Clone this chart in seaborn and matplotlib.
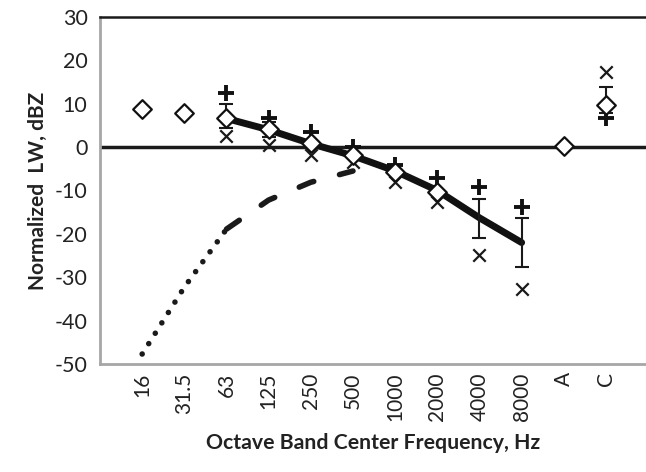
import numpy as np
import pandas as pd
import matplotlib
matplotlib.use('Agg')
import matplotlib.pyplot as plt
import seaborn as sns

# 数据
bands = ['16', '31.5', '63', '125', '250', '500', '1000', '2000', '4000', '8000', 'A', 'C']
pos = np.arange(1, len(bands) + 1)

# 平均值 (菱形)
mean_lw = [8.9, 7.8, 6.6, 4.1, 0.9, -1.8, -5.7, -10.3, np.nan, np.nan, 0.3, 9.8]
# 上限 (+)
upper_lw = [np.nan, np.nan, 12.4, 6.6, 3.5, 0.1, -4.1, -7.2, -9.1, -13.8, np.nan, 6.6]
# 下限 (x)
lower_lw = [np.nan, np.nan, 2.5, 0.5, -1.8, -3.4, -8.0, -12.6, -24.9, -32.6, np.nan, 17.4]

# 误差线
err_bands = ['63', '125', '4000', '8000', 'C']
err_center = [6.6, 4.1, -16.5, -22.0, 9.8]
err_top = [10.0, 5.8, -12.0, -16.4, 13.9]
err_bottom = [4.3, 2.4, -21.0, -27.7, 7.8]

# 粗实线
fit_bands = ['63', '125', '250', '500', '1000', '2000', '4000', '8000']
fit_lw = [6.6, 4.0, 0.8, -2.0, -5.5, -10.0, -16.3, -22.0]

# 点线 / 虚线
dot_bands = ['16', '31.5', '63']
dot_lw = [-47.7, -32.3, -18.9]
dash_bands = ['63', '125', '250', '500']
dash_lw = [-18.9, -12.2, -8.1, -5.5]

idx = {b: p for b, p in zip(bands, pos)}

sns.set_style('white')
plt.rcParams['font.family'] = ['Lato', 'DejaVu Sans']

fig = plt.figure(figsize=(6.46, 4.72), dpi=100)
ax = fig.add_axes([0.1548, 0.2288, 0.8452, 0.7352])

ax.axhline(0, color='#1a1a1a', lw=2.5, zorder=1)

sns.lineplot(x=[idx[b] for b in dot_bands], y=dot_lw, ax=ax, color='#1a1a1a', lw=4, zorder=2)
ax.lines[-1].set(dashes=(0.01, 2.2), dash_capstyle='round')
sns.lineplot(x=[idx[b] for b in dash_bands], y=dash_lw, ax=ax, color='#1a1a1a', lw=4, zorder=2)
ax.lines[-1].set(dashes=(2.8, 4.8), dash_capstyle='round')
sns.lineplot(x=[idx[b] for b in fit_bands], y=fit_lw, ax=ax, color='#111111', lw=5, zorder=3)
ax.lines[-1].set(solid_capstyle='round')

ex = [idx[b] for b in err_bands]
ax.errorbar(ex, err_center,
            yerr=[np.array(err_center) - np.array(err_bottom), np.array(err_top) - np.array(err_center)],
            fmt='none', ecolor='#1a1a1a', elinewidth=1.5, capsize=5, capthick=1.5, zorder=4)

df = pd.DataFrame({'x': pos, 'mean': mean_lw, 'upper': upper_lw, 'lower': lower_lw})
sns.scatterplot(data=df, x='x', y='upper', ax=ax, marker='+', s=130, color='#111111',
                linewidth=2.8, zorder=5)
sns.scatterplot(data=df, x='x', y='lower', ax=ax, marker='x', s=80, color='#1a1a1a',
                linewidth=1.6, zorder=5)
sns.scatterplot(data=df, x='x', y='mean', ax=ax, marker='D', s=90, facecolor='white',
                edgecolor='#111111', linewidth=1.6, zorder=6)

ax.set_xlim(0, 12.95)
ax.set_ylim(-50, 30)
ax.set_xticks(pos)
ax.set_xticklabels(bands, rotation=90, fontsize=15, color='#222222')
ax.set_yticks(np.arange(-50, 31, 10))
ax.set_yticklabels([str(v) for v in range(-50, 31, 10)], fontsize=15.5, color='#222222')
ax.tick_params(axis='both', direction='in', length=7, width=1.2, color='#a6a6a6', pad=6)
ax.tick_params(axis='y', pad=9)

for s in ['left', 'bottom']:
    ax.spines[s].set_color('#a6a6a6')
    ax.spines[s].set_linewidth(2)
ax.spines['right'].set_visible(False)
ax.spines['top'].set_color('#1a1a1a')
ax.spines['top'].set_linewidth(1.8)

ax.set_xlabel('Octave Band Center Frequency, Hz', fontsize=15.3, fontweight='bold',
              color='#222222', labelpad=9)
ax.set_ylabel('Normalized  LW, dBZ', fontsize=15, fontweight='bold', color='#222222',
              labelpad=5)

fig.savefig('out.png', dpi=100)
